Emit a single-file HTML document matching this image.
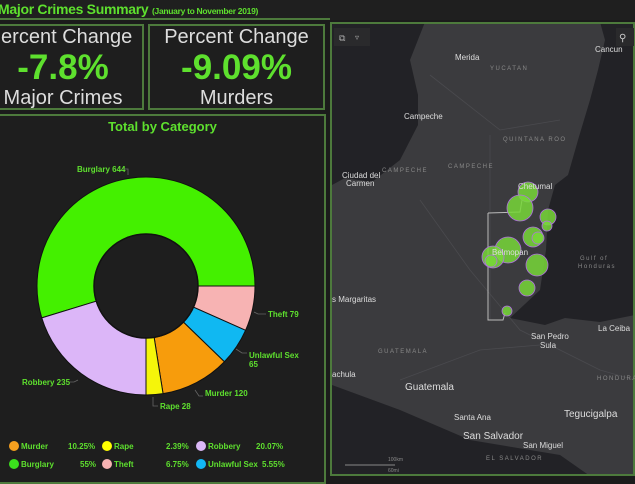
<!DOCTYPE html>
<html><head><meta charset="utf-8"><style>
*{margin:0;padding:0;box-sizing:border-box}
body{width:635px;height:476px;background:#1b1b1b;overflow:hidden;position:relative;font-family:"Liberation Sans",sans-serif}
.g{color:#5ee02e}
.box{position:absolute;border:2px solid #4d7a3c;background:#1e1e1e}
.t{position:absolute;left:0;right:0;text-align:center;white-space:nowrap}
</style></head><body>
<div style="position:absolute;left:0;top:0;width:330px;height:20px;border-bottom:2px solid #4d7a3c;background:#1f1f1f"></div>
<div class="g" style="position:absolute;left:-2px;top:1px;font-size:14px;font-weight:bold;white-space:nowrap;letter-spacing:-0.3px">Major Crimes Summary <span style="font-size:8.5px">(January to November 2019)</span></div>
<div class="box" style="left:-4px;top:24px;width:148px;height:86px">
<div class="t" style="top:0;font-size:20px;color:#ddd;left:-20px">Percent Change</div>
<div class="t g" style="top:22px;font-size:35px;font-weight:bold;left:-14px">-7.8%</div>
<div class="t" style="top:61px;font-size:20px;color:#ddd;left:-14px">Major Crimes</div>
</div>
<div class="box" style="left:148px;top:24px;width:177px;height:86px">
<div class="t" style="top:0;font-size:20px;color:#ddd">Percent Change</div>
<div class="t g" style="top:22px;font-size:35px;font-weight:bold">-9.09%</div>
<div class="t" style="top:61px;font-size:20px;color:#ddd">Murders</div>
</div>
<div class="box" style="left:-4px;top:114px;width:330px;height:370px"></div>
<div class="g" style="position:absolute;left:0;width:325px;top:119px;text-align:center;font-size:13px;font-weight:bold">Total by Category</div>
<svg style="position:absolute;left:0;top:0" width="330" height="476">
<g id="d"></g>
<g font-size="8" fill="#5ee02e" font-weight="bold" font-family="Liberation Sans,sans-serif">
<text x="77" y="172">Burglary 644</text>
<text x="268" y="317">Theft 79</text>
<text x="249" y="358">Unlawful Sex</text><text x="249" y="367">65</text>
<text x="205" y="396">Murder 120</text>
<text x="160" y="409">Rape 28</text>
<text x="22" y="385">Robbery 235</text>
</g>
<g stroke="#666" fill="none" stroke-width="0.8">
<path d="M123 169h5v6"/><path d="M254 312l4 2h8"/><path d="M236 349l6 4h5"/><path d="M195 390l4 6h4"/><path d="M153 397v9h5"/><path d="M78 380l-4 2h-4"/>
</g>
<g font-size="8" font-weight="bold" font-family="Liberation Sans,sans-serif" fill="#5ee02e">
<circle cx="14" cy="446" r="5" fill="#f7a01f"/><text x="21" y="449">Murder</text><text x="68" y="449">10.25%</text>
<circle cx="107" cy="446" r="5" fill="#ffff00"/><text x="114" y="449">Rape</text><text x="166" y="449">2.39%</text>
<circle cx="201" cy="446" r="5" fill="#dbb8f7"/><text x="208" y="449">Robbery</text><text x="256" y="449">20.07%</text>
<circle cx="14" cy="464" r="5" fill="#3be01d"/><text x="21" y="467">Burglary</text><text x="80" y="467">55%</text>
<circle cx="107" cy="464" r="5" fill="#f7b3b3"/><text x="114" y="467">Theft</text><text x="166" y="467">6.75%</text>
<circle cx="201" cy="464" r="5" fill="#12b7f5"/><text x="208" y="467">Unlawful Sex</text><text x="262" y="467">5.55%</text>
</g>
</svg>
<script>
(function(){var cx=146,cy=286,R=109,r=52;
var s=[[253,450,"#44f000"],[90,114,"#f7b3b3"],[114,134,"#10b8f2"],[134,171,"#f79c0c"],[171,180,"#f5f50a"],[180,253,"#dcb6f8"]];
function pt(a,rad){a=a*Math.PI/180;return (cx+rad*Math.sin(a)).toFixed(2)+" "+(cy-rad*Math.cos(a)).toFixed(2)}
var h="";s.forEach(function(q){var a=q[0],b=q[1];if(b<a)b+=360;var l=(b-a)>180?1:0;
h+='<path fill="'+q[2]+'" stroke="#111" stroke-width="1" d="M'+pt(a,R)+' A'+R+' '+R+' 0 '+l+' 1 '+pt(b,R)+' L'+pt(b,r)+' A'+r+' '+r+' 0 '+l+' 0 '+pt(a,r)+' Z"/>';});
h+='<circle cx="'+cx+'" cy="'+cy+'" r="'+r+'" fill="#1e1e1e" stroke="#111" stroke-width="1.5"/>';
document.getElementById("d").innerHTML=h;})();
</script>
<div style="position:absolute;left:330px;top:0;width:305px;height:20px;background:#1f1f1f"></div>
<svg style="position:absolute;left:330px;top:22px" width="305" height="454" viewBox="330 22 305 454">
<rect x="330" y="22" width="305" height="454" fill="#222226"/>
<path fill="#3b3b3e" d="M425 22 L600 22 L605 40 L598 70 L590 100 L578 140 L568 175 L555 185 L548 210 L546 250 L540 290 L510 318 L545 325 L565 318 L600 322 L635 315 L635 476 L590 476 L560 455 L470 440 L400 410 L332 385 L332 185 L345 178 L372 182 L400 160 L418 125 L418 95 L410 60 Z"/>
<path fill="#222226" d="M620 70 L625 100 L635 95 L635 60 Z"/>
<g fill="none" stroke="#4a4a4e" stroke-width="0.8"><path d="M430 75 L500 130 L560 120"/><path d="M490 135 L490 320"/><path d="M420 200 L470 270 L520 330 L600 370 L635 380"/><path d="M400 380 L480 350 L540 345"/></g>
<path fill="none" stroke="#bbb" stroke-width="1" d="M488 213 L520 212 L522 200 M488 213 L488 320 L503 320 L505 313"/>
<rect x="331" y="23" width="303" height="452" fill="none" stroke="#4d7a3c" stroke-width="2"/>
<rect x="334" y="28" width="36" height="18" fill="#2a2a2c"/><rect x="616" y="28" width="18" height="18" fill="#2a2a2c"/>
<text x="339" y="41" font-size="9" fill="#aaa">⧉</text><text x="355" y="40" font-size="8" fill="#aaa">▿</text><text x="619" y="41" font-size="10" fill="#ccc">⚲</text>
<g fill="#78d838" fill-opacity="0.85" stroke="#b070e0" stroke-width="0.8">
<circle cx="528" cy="192" r="10"/><circle cx="520" cy="208" r="13"/><circle cx="548" cy="217" r="8"/><circle cx="547" cy="226" r="5"/><circle cx="533" cy="237" r="10"/><circle cx="538" cy="238" r="6"/><circle cx="508" cy="250" r="13"/><circle cx="493" cy="257" r="11"/><circle cx="491" cy="261" r="6"/><circle cx="537" cy="265" r="11"/><circle cx="527" cy="288" r="8"/><circle cx="507" cy="311" r="5"/>
</g>
<g font-family="Liberation Sans,sans-serif" fill="#ddd" font-size="8">
<text x="455" y="60">Merida</text><text x="595" y="52">Cancun</text><text x="404" y="119">Campeche</text>
<text x="342" y="178">Ciudad del</text><text x="346" y="186">Carmen</text><text x="518" y="189">Chetumal</text>
<text x="492" y="255">Belmopan</text><text x="332" y="302">s Margaritas</text><text x="598" y="331">La Ceiba</text>
<text x="531" y="339">San Pedro</text><text x="540" y="348">Sula</text><text x="332" y="377">achula</text>
<text x="405" y="390" font-size="10">Guatemala</text><text x="454" y="420">Santa Ana</text><text x="463" y="439" font-size="10">San Salvador</text>
<text x="564" y="417" font-size="10">Tegucigalpa</text><text x="523" y="448">San Miguel</text>
</g>
<g font-family="Liberation Sans,sans-serif" fill="#888" font-size="6" letter-spacing="1.5">
<text x="490" y="70">YUCATAN</text><text x="503" y="141">QUINTANA ROO</text><text x="448" y="168">CAMPECHE</text><text x="382" y="172">CAMPECHE</text>
<text x="378" y="353">GUATEMALA</text><text x="597" y="380">HONDURA</text><text x="486" y="460">EL SALVADOR</text>
<text x="580" y="260">Gulf of</text><text x="578" y="268">Honduras</text>
</g>
<path stroke="#888" fill="none" d="M345 465 H395"/><text x="388" y="461" font-size="5" fill="#888">100km</text><text x="388" y="472" font-size="5" fill="#888">60mi</text>
</svg>
</body></html>
